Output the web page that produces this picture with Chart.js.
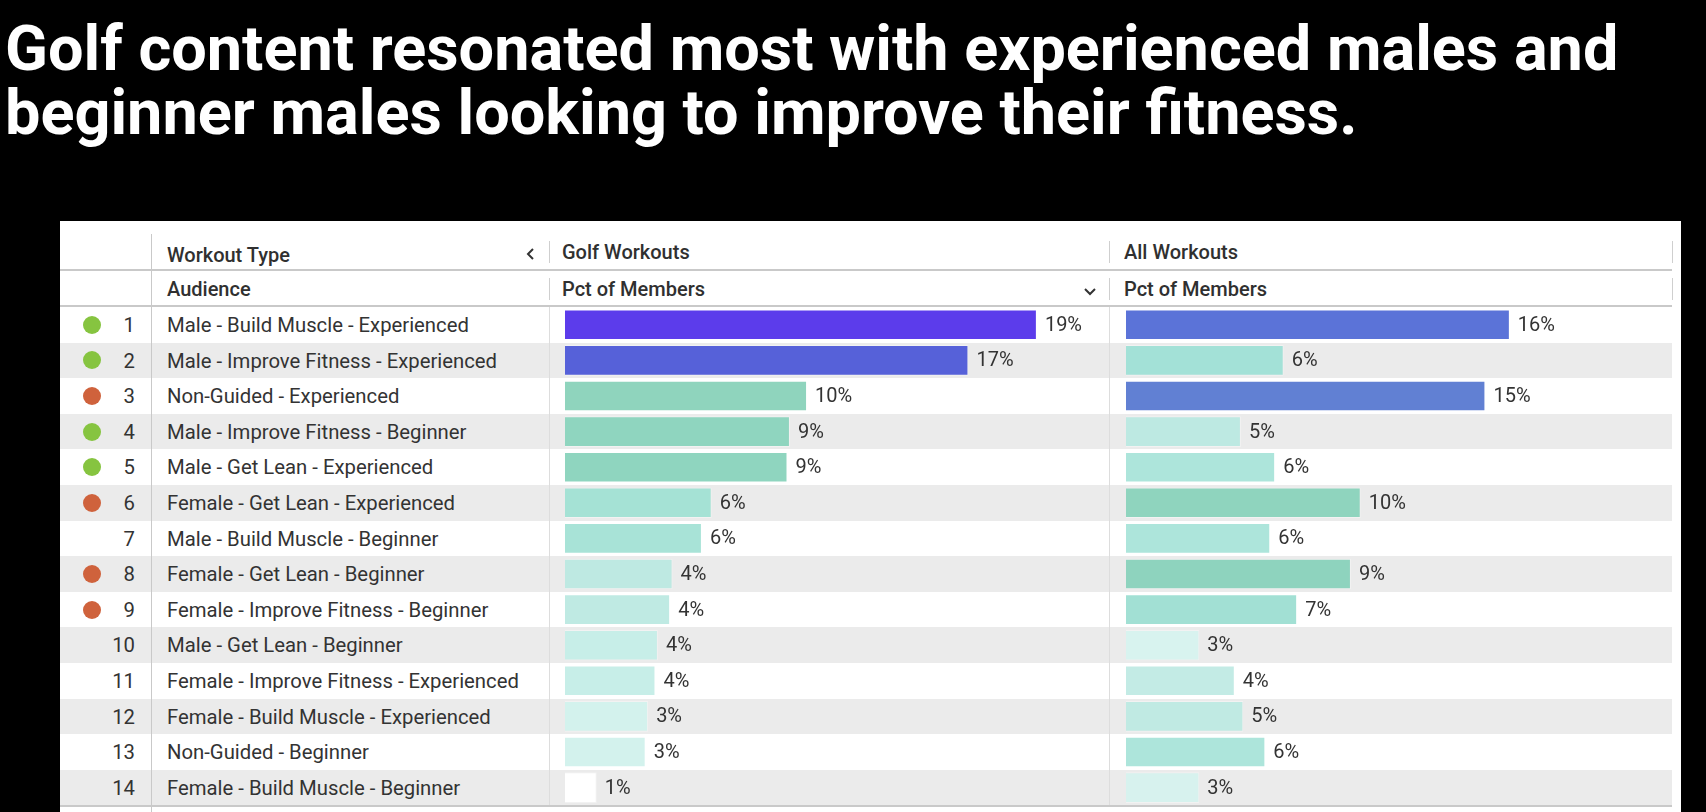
<!DOCTYPE html>
<html>
<head>
<meta charset="utf-8">
<script src="https://cdn.jsdelivr.net/npm/chart.js@4.4.1/dist/chart.umd.min.js"></script>
<style>
  html, body { margin: 0; padding: 0; background: #000; width: 1706px; height: 812px; overflow: hidden; }
  body { position: relative; font-family: Roboto, "Noto Sans", sans-serif; }
  #title { position: absolute; left: 5px; top: 17px; color: #fff; font-weight: 700; font-size: 63px; line-height: 64px; white-space: nowrap; }
  #panel { position: absolute; left: 60px; top: 221px; width: 1621px; height: 600px; background: #fff; }
  .abs { position: absolute; }
  .hline { position: absolute; height: 2px; background: #c9c9c9; }
  .vline { position: absolute; width: 1px; background: #cfcfcf; }
  .head { position: absolute; color: #303030; font-size: 20px; font-weight: 500; line-height: 24px; white-space: nowrap; }
  .row { position: absolute; left: 0; width: 1612px; height: 35.6px; }
  .row.alt { background: #ebebeb; }
  .cell { position: absolute; top: 0; height: 35.6px; line-height: 36px; font-size: 20.3px; color: #333; white-space: nowrap; }
  .dot { position: absolute; width: 18px; height: 18px; border-radius: 50%; top: 8.8px; left: 22.7px; }
  .chartbox { position: absolute; }
</style>
</head>
<body>
<div id="title">Golf content resonated most with experienced males and<br>beginner males looking to improve their fitness.</div>
<div id="panel"></div>

<script>
// table data
const ranks = [1, 2, 3, 4, 5, 6, 7, 8, 9, 10, 11, 12, 13, 14];
const audiences = [
  "Male - Build Muscle - Experienced",
  "Male - Improve Fitness - Experienced",
  "Non-Guided - Experienced",
  "Male - Improve Fitness - Beginner",
  "Male - Get Lean - Experienced",
  "Female - Get Lean - Experienced",
  "Male - Build Muscle - Beginner",
  "Female - Get Lean - Beginner",
  "Female - Improve Fitness - Beginner",
  "Male - Get Lean - Beginner",
  "Female - Improve Fitness - Experienced",
  "Female - Build Muscle - Experienced",
  "Non-Guided - Beginner",
  "Female - Build Muscle - Beginner"
];
// pct of members (%)
const golfPct = [19.3, 16.5, 9.9, 9.2, 9.1, 6.0, 5.6, 4.4, 4.3, 3.8, 3.7, 3.4, 3.3, 1.3];
const allPct = [15.7, 6.45, 14.7, 4.7, 6.1, 9.6, 5.9, 9.2, 7.0, 3.0, 4.45, 4.8, 5.7, 3.0];
// marker next to the rank: g = green, r = red, '' = none
const marks = ['g', 'g', 'r', 'g', 'g', 'r', '', 'r', 'r', '', '', '', '', ''];

const headers = { group: "Workout Type", dim: "Audience", col1: "Golf Workouts", col2: "All Workouts", measure: "Pct of Members" };

// styles
const golfColors = ['#5c3ceb', '#5661d9', '#8fd4bd', '#8fd5bf', '#8fd5bf', '#a5e2d5', '#a8e3d7', '#bee9e2', '#bfeae3', '#c7eee8', '#c7eee8', '#d3f2ed', '#d3f2ed', '#ffffff'];
const allColors = ['#5b73d8', '#a3e1d7', '#6180d3', '#bde9e2', '#ade5db', '#8fd4be', '#ade5db', '#8ed3be', '#a2e0d4', '#d8f3ef', '#c3ebe5', '#c0eae3', '#ade5db', '#d7f2ee'];
const markColors = { g: '#86c440', r: '#cf623c' };

const PX_PER_PCT = 24.45;
const ROW_H = 35.6;
const BODY_TOP = 86;   // relative to panel
const panel = document.getElementById('panel');

function el(cls, css, text) {
  const d = document.createElement('div');
  d.className = cls;
  Object.assign(d.style, css);
  if (text !== undefined) d.textContent = text;
  panel.appendChild(d);
  return d;
}

// rows
audiences.forEach((a, i) => {
  const r = el('row' + (i % 2 ? ' alt' : ''), { top: (BODY_TOP + i * ROW_H) + 'px' });
  if (marks[i]) {
    const dd = document.createElement('div');
    dd.className = 'dot';
    dd.style.background = markColors[marks[i]];
    r.appendChild(dd);
  }
  const n = document.createElement('div');
  n.className = 'cell';
  n.style.left = '35px'; n.style.width = '40px'; n.style.textAlign = 'right';
  n.textContent = ranks[i];
  r.appendChild(n);
  const t = document.createElement('div');
  t.className = 'cell';
  t.style.left = '107px';
  t.textContent = a;
  r.appendChild(t);
});

// grid lines
el('hline', { left: '0px', width: '1612px', top: '48px' });
el('hline', { left: '0px', width: '1612px', top: '84px' });
el('hline', { left: '0px', width: '1612px', top: (BODY_TOP + 14 * ROW_H) + 'px' });
el('vline', { left: '91px', top: '13px', height: '580px', background: '#c9c9c9' });
[489, 1049].forEach(x => {
  el('vline', { left: x + 'px', top: '20px', height: '22px' });
  el('vline', { left: x + 'px', top: '57px', height: '22px' });
  el('vline', { left: x + 'px', top: BODY_TOP + 'px', height: (14 * ROW_H) + 'px', background: '#dddddd' });
});
el('vline', { left: '1612px', top: '20px', height: '22px' });
el('vline', { left: '1612px', top: '57px', height: '22px' });

// headers
el('head', { left: '107px', top: '22px' }, headers.group);
el('head', { left: '107px', top: '56px' }, headers.dim);
el('head', { left: '502px', top: '19px' }, headers.col1);
el('head', { left: '502px', top: '56px' }, headers.measure);
el('head', { left: '1064px', top: '19px' }, headers.col2);
el('head', { left: '1064px', top: '56px' }, headers.measure);
el('abs', { left: '464px', top: '25px', width: '12px', height: '16px' }).innerHTML =
  '<svg width="12" height="16"><polyline points="9,3 4,8 9,13" fill="none" stroke="#333" stroke-width="2"/></svg>';
el('abs', { left: '1022px', top: '62px', width: '16px', height: '12px' }).innerHTML =
  '<svg width="16" height="12"><polyline points="3,3 8,8 13,3" fill="none" stroke="#333" stroke-width="2"/></svg>';

// value labels after each bar
const valueLabels = {
  id: 'valueLabels',
  afterDatasetsDraw(chart) {
    const ctx = chart.ctx;
    const ds = chart.data.datasets[0];
    ctx.save();
    ctx.font = '20px Roboto, "Noto Sans", sans-serif';
    ctx.fillStyle = '#333';
    ctx.textBaseline = 'middle';
    chart.getDatasetMeta(0).data.forEach((bar, i) => {
      ctx.fillText(Math.round(ds.data[i]) + '%', bar.x + 8, bar.y + 1);
    });
    ctx.restore();
  }
};

function makeChart(left, width, values, colors) {
  const box = el('chartbox', { left: left + 'px', top: BODY_TOP + 'px', width: width + 'px', height: (14 * ROW_H) + 'px' });
  const cv = document.createElement('canvas');
  box.appendChild(cv);
  return new Chart(cv, {
    type: 'bar',
    data: {
      labels: audiences,
      datasets: [{
        data: values,
        backgroundColor: colors,
        borderColor: 'rgba(255,255,255,0.35)',
        borderWidth: 1,
        barPercentage: 0.86,
        categoryPercentage: 1
      }]
    },
    options: {
      indexAxis: 'y',
      responsive: true,
      maintainAspectRatio: false,
      animation: false,
      layout: { padding: 0 },
      plugins: { legend: { display: false }, tooltip: { enabled: false } },
      scales: {
        x: { display: false, min: 0, max: width / PX_PER_PCT },
        y: { display: false }
      }
    },
    plugins: [valueLabels]
  });
}

makeChart(504.7, 540, golfPct, golfColors);
makeChart(1066, 540, allPct, allColors);
</script>
</body>
</html>
